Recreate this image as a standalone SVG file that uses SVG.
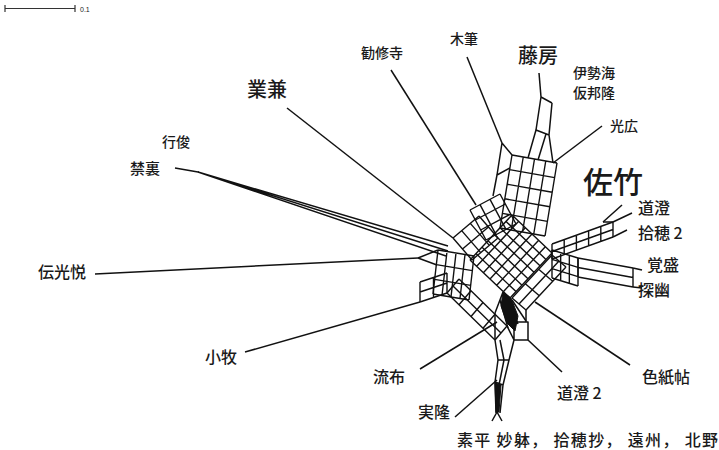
<svg xmlns="http://www.w3.org/2000/svg" xmlns:xlink="http://www.w3.org/1999/xlink" width="719" height="450" viewBox="0 0 719 450">
<style>
.m{fill:none;stroke:#111;stroke-width:1.4;vector-effect:non-scaling-stroke;stroke-linejoin:round}
.e{fill:none;stroke:#111;stroke-width:1.5;stroke-linejoin:round}
.f{fill:#111;stroke:#111;stroke-width:1}
text{font-family:"Noto Sans CJK JP","Noto Sans",sans-serif;fill:#1a1a1a;font-weight:500}
.s14{font-size:14px}.s15{font-size:15px}.s16{font-size:16px}.s20{font-size:20px}
</style>
<defs>
<path id="g76" class="m" d="M0 0V1M.1429 0V1M.2857 0V1M.4286 0V1M.5714 0V1M.7143 0V1M.8571 0V1M1 0V1M0 0H1M0 .1667H1M0 .3333H1M0 .5H1M0 .6667H1M0 .8333H1M0 1H1"/>
<path id="g54" class="m" d="M0 0V1M.2 0V1M.4 0V1M.6 0V1M.8 0V1M1 0V1M0 0H1M0 .25H1M0 .5H1M0 .75H1M0 1H1"/>
<path id="g33" class="m" d="M0 0V1M.3333 0V1M.6667 0V1M1 0V1M0 0H1M0 .3333H1M0 .6667H1M0 1H1"/>
<path id="g32" class="m" d="M0 0V1M.3333 0V1M.6667 0V1M1 0V1M0 0H1M0 .5H1M0 1H1"/>
<path id="g43" class="m" d="M0 0V1M.25 0V1M.5 0V1M.75 0V1M1 0V1M0 0H1M0 .3333H1M0 .6667H1M0 1H1"/>
<path id="g22" class="m" d="M0 0V1M.5 0V1M1 0V1M0 0H1M0 .5H1M0 1H1"/>
<path id="g42" class="m" d="M0 0V1M.25 0V1M.5 0V1M.75 0V1M1 0V1M0 0H1M0 .5H1M0 1H1"/>
<path id="g52" class="m" d="M0 0V1M.2 0V1M.4 0V1M.6 0V1M.8 0V1M1 0V1M0 0H1M0 .5H1M0 1H1"/>
<path id="g12" class="m" d="M0 0V1M1 0V1M0 0H1M0 .5H1M0 1H1"/>
</defs>
<rect width="719" height="450" fill="#fff"/>

<g id="scale">
<path d="M5 5V12M5 8.5H75M75 5V12" fill="none" stroke="#333" stroke-width="1.2"/>
<text x="80" y="12" style="font-size:7px;font-family:'Liberation Sans',sans-serif;font-weight:400" fill="#444">0.1</text>
</g>

<g id="network">
<use href="#g76" transform="matrix(42 -45 40 38 470 260)"/>
<use href="#g54" transform="matrix(12 -73 45 8 500 228)"/>
<use href="#g33" transform="matrix(30 -16 16 30 470 210)"/>
<use href="#g32" transform="matrix(26 -22 19 22 453 238)"/>
<use href="#g43" transform="matrix(36 6 -5 44 438 250)"/>
<use href="#g22" transform="matrix(27 -9 0 -20 420 302)"/>
<use href="#g42" transform="matrix(48 47 12 -14 447 293)"/>
<use href="#g52" transform="matrix(61 -22 0 15 552 244)"/>
<use href="#g12" transform="matrix(55 10 0 19 578 258)"/>
<use href="#g33" transform="matrix(26 8 0 28 552 250)"/>
<use href="#g32" transform="matrix(40 -43 14 12 512 298)"/>
<path class="e" d="M541 97L552 103M541 97L536 130L528 158M552 103L549 135L553 163M536 130L549 135M546 134L538 160"/>
<path class="e" d="M502 143L512 155M502 143L497 175L493 196M497 175L510 168"/>
<path class="e" d="M418 258L438 250M418 258L437 265"/>
<path class="e" d="M603 222L613 222"/>
<path class="e" d="M495 313V340L498 360L495 382L496 413M514 322H528V340H514ZM514 340L509 360L503 385L500 413M500 340L504 360L499 385L497 413M498 360H509M495 382L503 385M526 310V322M507 326L514 340"/>
<path class="e" d="M500 300L508 328M505 295L518 324M512 300L526 321M495 313L503 292"/>
<path class="f" d="M503 292L511 298L518 316L515 331L507 323L501 306Z"/>
<path class="f" d="M495 383L501 385L499 412L496 412Z"/>
<path class="e" d="M492 421L497 412L502 421"/>
</g>

<g id="connectors">
<path class="e" d="M391 70L476 205"/>
<path class="e" d="M467 57L502 143"/>
<path class="e" d="M539 73L541 97"/>
<path class="e" d="M602 126L553 163"/>
<path class="e" d="M287 108L453 238"/>
<path class="e" d="M175 168L198 172L448 246M198 172L448 251M198 172L446 256"/>
<path class="e" d="M95 274L418 258"/>
<path class="e" d="M245 352L420 302"/>
<path class="e" d="M420 369L497 322"/>
<path class="e" d="M455 417L497 380"/>
<path class="e" d="M562 372L528 340"/>
<path class="e" d="M630 365L535 302"/>
<path class="e" d="M622 205L603 222"/>
<path class="e" d="M632 213L613 222"/>
<path class="e" d="M627 230L613 237"/>
<path class="e" d="M642 270L633 268"/>
<path class="e" d="M642 288L633 287"/>
</g>

<g id="n-kanshuji"><text class="s14" x="361" y="58">勧修寺</text></g>
<g id="n-kifude"><text class="s14" x="450" y="44">木筆</text></g>
<g id="n-gyoken"><text class="s20" x="247" y="97">業兼</text></g>
<g id="n-fujifusa"><text class="s20" x="518" y="63">藤房</text></g>
<g id="n-isenoumi"><text class="s14" x="573" y="78">伊勢海</text><text class="s14" x="573" y="98">仮邦隆</text></g>
<g id="n-mitsuhiro"><text class="s14" x="610" y="131">光広</text></g>
<g id="n-gyoshun"><text class="s14" x="162" y="147">行俊</text></g>
<g id="n-kinri"><text class="s15" x="130" y="174">禁裏</text></g>
<g id="n-satake"><text x="583" y="193" style="font-size:30px">佐竹</text></g>
<g id="n-dochou"><text class="s16" x="638" y="214">道澄</text></g>
<g id="n-shuisui2"><text class="s16" x="638" y="239">拾穂 2</text></g>
<g id="n-kakusei"><text class="s16" x="647" y="271">覚盛</text></g>
<g id="n-tanyu"><text class="s16" x="638" y="296">探幽</text></g>
<g id="n-denkoetsu"><text class="s16" x="38" y="278">伝光悦</text></g>
<g id="n-komaki"><text class="s16" x="205" y="363">小牧</text></g>
<g id="n-rufu"><text class="s16" x="373" y="383">流布</text></g>
<g id="n-shikishi"><text class="s16" x="642" y="383">色紙帖</text></g>
<g id="n-dochou2"><text class="s16" x="557" y="399">道澄 2</text></g>
<g id="n-sanetaka"><text class="s16" x="418" y="418">実隆</text></g>
<g id="n-sohei"><text class="s16" x="457" y="446" textLength="261" lengthAdjust="spacing">素平 妙躰， 拾穂抄， 遠州， 北野</text></g>
</svg>
